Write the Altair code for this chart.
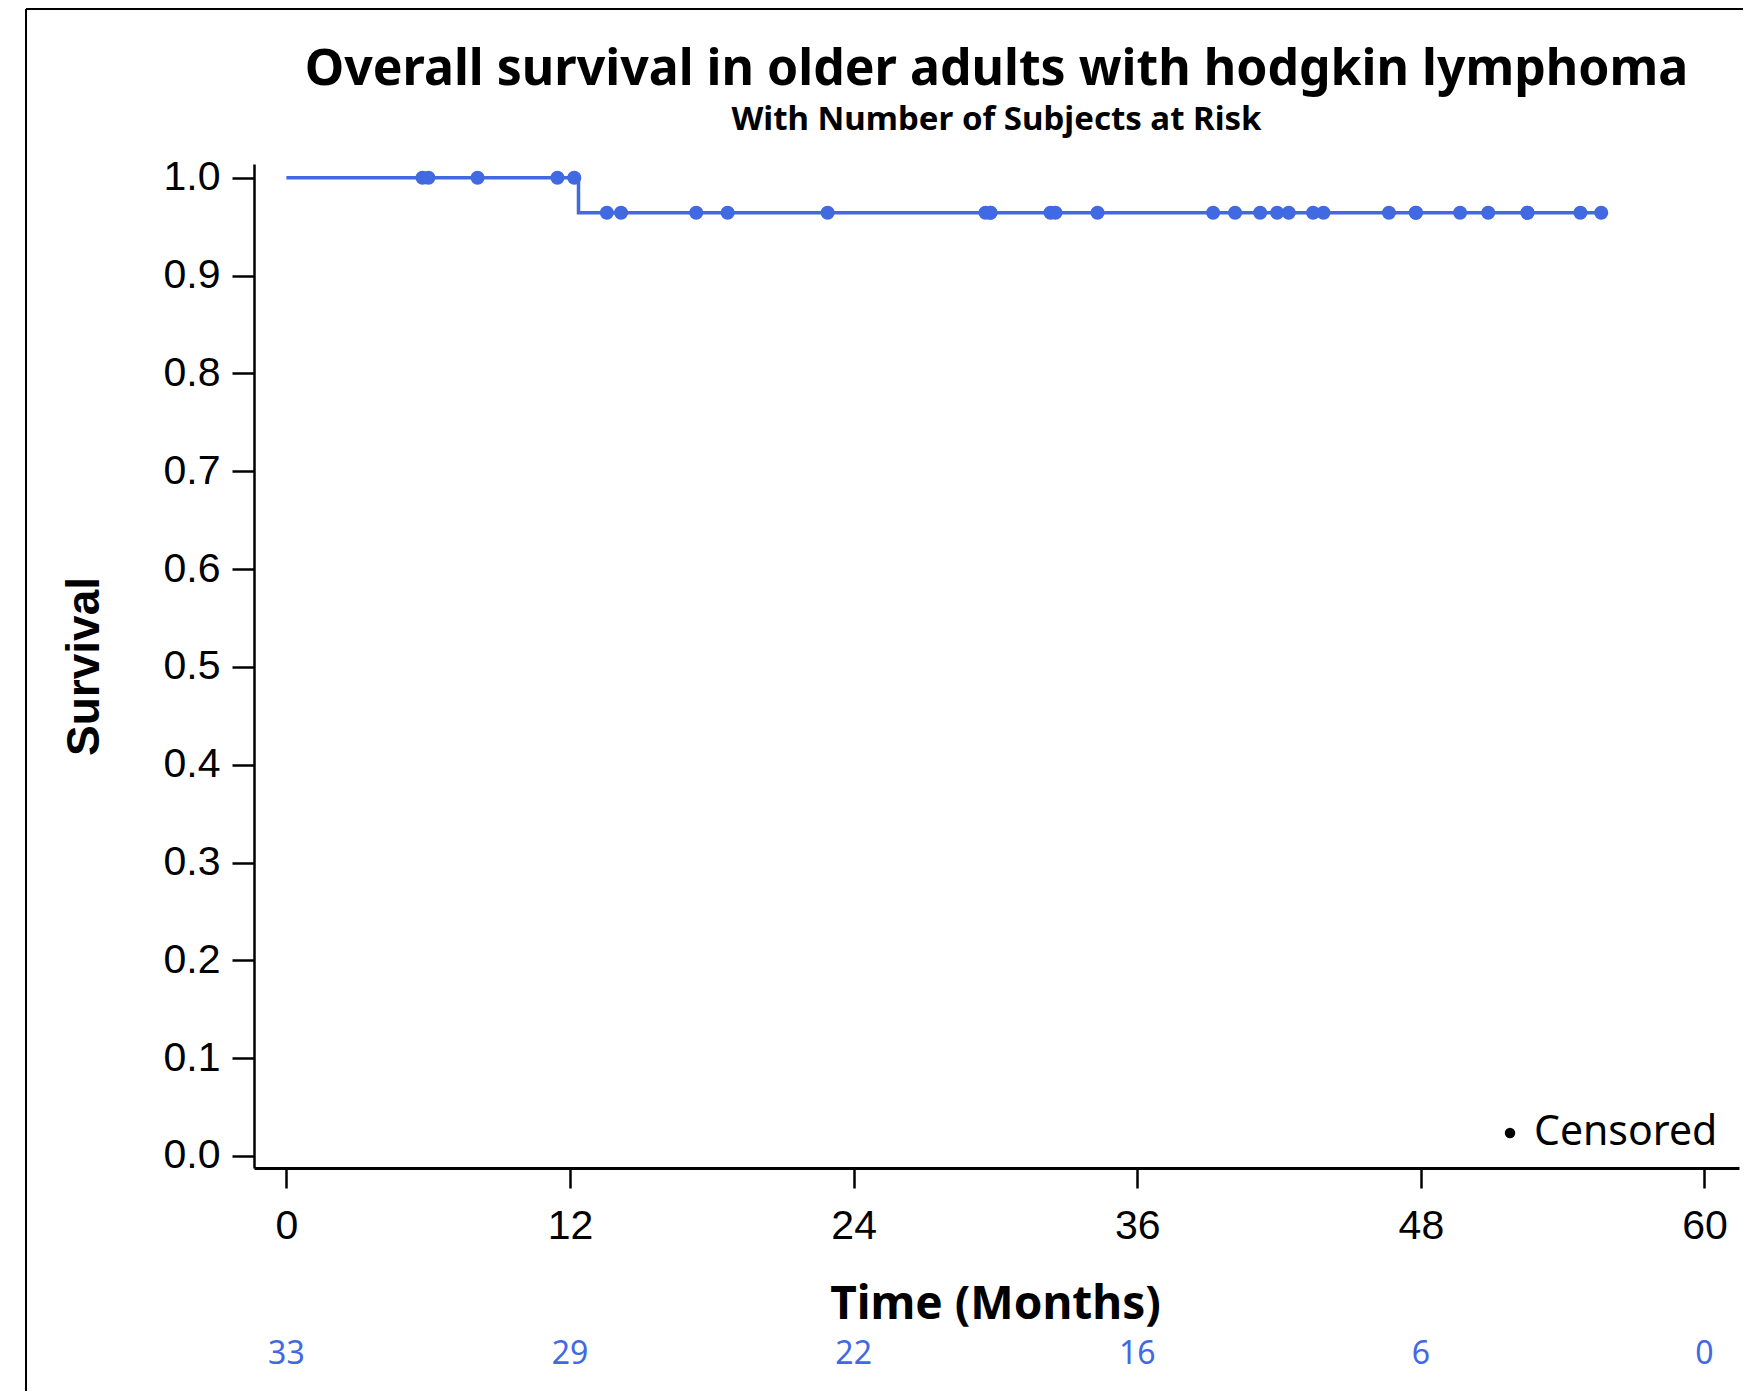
import altair as alt
import pandas as pd

# ---- data ----
event_times = [12.36]
surv_levels = [1.0, 0.9643]
line_times = [0.0, 12.36, 55.63]
line_surv = [1.0, 0.9643, 0.9643]

censor_times = [5.76, 6.01, 8.09, 11.47, 12.18, 13.56, 14.16, 17.34, 18.67, 22.90,
                29.58, 29.79, 29.79, 32.33, 32.54, 34.32,
                39.21, 40.14, 41.20, 41.92, 42.41, 43.44, 43.88, 46.65, 47.79, 47.79,
                49.66, 50.85, 52.51, 52.51, 54.75, 55.63]

risk_times = [0, 12, 24, 36, 48, 60]
risk_counts = [33, 29, 22, 16, 6, 0]

x_ticks = [0, 12, 24, 36, 48, 60]
y_ticks = [0.0, 0.1, 0.2, 0.3, 0.4, 0.5, 0.6, 0.7, 0.8, 0.9, 1.0]

title_text = "Overall survival in older adults with hodgkin lymphoma"
subtitle_text = "With Number of Subjects at Risk"
legend_label = "Censored"

BLUE = "#4169E1"
W, H = 1485, 1004

line_df = pd.DataFrame({"t": line_times, "s": line_surv})
cens_df = pd.DataFrame({
    "t": censor_times,
    "s": [surv_levels[0] if t < event_times[0] else surv_levels[1] for t in censor_times],
})
risk_df = pd.DataFrame({"t": risk_times, "n": [str(c) for c in risk_counts]})
one = pd.DataFrame({"k": [0]})

xscale = alt.Scale(domain=[-1.37, 61.46], nice=False, zero=False)
yscale = alt.Scale(domain=[-0.0123, 1.0141], nice=False, zero=False)

xaxis = alt.Axis(
    values=x_ticks, title="Time (Months)", grid=False,
    domainColor="black", domainWidth=3, tickColor="black", tickWidth=2.5, tickSize=20,
    labelFont="Liberation Sans", labelFontSize=41, labelColor="black",
    labelBaseline="middle", labelPadding=38, labelFlush=False,
    titleFont="Noto Sans", titleFontSize=46, titleFontWeight="bold", titleColor="black",
    titleX=741, titleY=136, titleBaseline="middle",
)
yaxis = alt.Axis(
    values=y_ticks, format=".1f", title="Survival", grid=False,
    domainColor="black", domainWidth=2.5, tickColor="black", tickWidth=2.5, tickSize=22,
    labelFont="Liberation Sans", labelFontSize=41, labelColor="black", labelPadding=12,
    labelFlush=False,
    titleFont="Liberation Sans", titleFontSize=46, titleFontWeight="bold", titleColor="black",
    titleX=-170, titleY=502, titleAngle=270, titleBaseline="middle",
)

line = alt.Chart(line_df).mark_line(interpolate="step-after", color=BLUE, strokeWidth=3.5).encode(
    x=alt.X("t:Q", scale=xscale, axis=xaxis),
    y=alt.Y("s:Q", scale=yscale, axis=yaxis),
)

pts = alt.Chart(cens_df).mark_circle(color=BLUE, opacity=1, size=200).encode(
    x=alt.X("t:Q", scale=xscale),
    y=alt.Y("s:Q", scale=yscale),
)

risk = alt.Chart(risk_df).mark_text(
    color=BLUE, font="Noto Sans", fontSize=32, baseline="middle", align="center"
).encode(
    x=alt.X("t:Q", scale=xscale),
    y=alt.value(1190),
    text="n:N",
)

title_mark = alt.Chart(one).mark_text(
    text=title_text, font="Noto Sans", fontSize=50, fontWeight="bold", color="black",
    align="center", baseline="middle",
).encode(x=alt.value(W / 2), y=alt.value(-94))

subtitle_mark = alt.Chart(one).mark_text(
    text=subtitle_text, font="Noto Sans", fontSize=33, fontWeight="bold", color="black",
    align="center", baseline="middle",
).encode(x=alt.value(W / 2), y=alt.value(-44))

legend_dot = alt.Chart(one).mark_circle(color="black", size=110, opacity=1).encode(
    x=alt.value(1256), y=alt.value(969)
)
legend_txt = alt.Chart(one).mark_text(
    text=legend_label, font="Noto Sans", fontSize=41, align="left", baseline="middle", color="black"
).encode(x=alt.value(1280), y=alt.value(969))

frame_left = alt.Chart(one).mark_rule(color="black", strokeWidth=2).encode(
    x=alt.value(-228), y=alt.value(-155), y2=alt.value(1240)
)
frame_top = alt.Chart(one).mark_rule(color="black", strokeWidth=2).encode(
    x=alt.value(-228), x2=alt.value(1510), y=alt.value(-155)
)

chart = alt.layer(
    frame_left, frame_top, line, pts, risk, title_mark, subtitle_mark, legend_dot, legend_txt
).properties(
    width=W, height=H,
    autosize=alt.AutoSizeParams(type="none"),
    padding={"left": 246, "top": 156, "right": 4, "bottom": 223},
).configure(background="white").configure_view(stroke=None, strokeWidth=0)

chart.save("out.html", embed_options={"renderer": "svg", "actions": False})
